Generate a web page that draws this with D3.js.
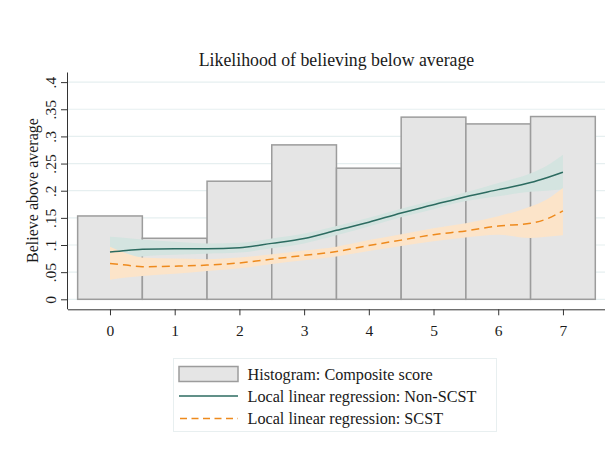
<!DOCTYPE html>
<html>
<head>
<meta charset="utf-8">
<script src="https://cdn.jsdelivr.net/npm/d3@7"></script>
<style>
  html, body { margin: 0; padding: 0; background: #fff; }
  svg { display: block; }
  text { font-family: "Liberation Serif", "Times New Roman", serif; fill: #1a1a1a; }
</style>
</head>
<body>
<svg id="chart" width="615" height="450"></svg>
<script>
// ---- Data ----
const histCategories = [0, 1, 2, 3, 4, 5, 6, 7];
const histValues = [0.1535, 0.1124, 0.2175, 0.2844, 0.2415, 0.3355, 0.323, 0.3366];

const fitX = [0, 0.25, 0.5, 1, 1.5, 2, 2.5, 3, 3.5, 4, 4.5, 5, 5.5, 6, 6.5, 6.75, 7];
const nonScstFit   = [0.087, 0.090, 0.092, 0.093, 0.093, 0.095, 0.103, 0.112, 0.127, 0.142, 0.159, 0.174, 0.189, 0.202, 0.215, 0.224, 0.234];
const nonScstLower = [0.060, 0.072, 0.079, 0.082, 0.084, 0.086, 0.094, 0.103, 0.118, 0.134, 0.151, 0.166, 0.181, 0.190, 0.198, 0.200, 0.202];
const nonScstUpper = [0.115, 0.113, 0.110, 0.106, 0.103, 0.104, 0.112, 0.121, 0.135, 0.150, 0.167, 0.182, 0.197, 0.214, 0.232, 0.246, 0.266];
const scstFit   = [0.066, 0.063, 0.060, 0.061, 0.063, 0.067, 0.074, 0.081, 0.088, 0.099, 0.109, 0.119, 0.126, 0.135, 0.140, 0.148, 0.163];
const scstLower = [0.036, 0.040, 0.043, 0.047, 0.052, 0.057, 0.065, 0.072, 0.079, 0.089, 0.098, 0.107, 0.114, 0.119, 0.113, 0.115, 0.118];
const scstUpper = [0.097, 0.085, 0.077, 0.075, 0.074, 0.077, 0.083, 0.090, 0.097, 0.109, 0.120, 0.131, 0.140, 0.153, 0.171, 0.184, 0.205];

const xTicks = [0, 1, 2, 3, 4, 5, 6, 7];
const yTicks = [0, 0.05, 0.1, 0.15, 0.2, 0.25, 0.3, 0.35, 0.4];
const yTickLabels = ["0", ".05", ".1", ".15", ".2", ".25", ".3", ".35", ".4"];

const titleText = "Likelihood of believing below average";
const yLabelText = "Believe above average";
const legendLabels = ["Histogram: Composite score", "Local linear regression: Non-SCST", "Local linear regression: SCST"];

// ---- Layout ----
const svg = d3.select("#chart");
const plotLeft = 68, plotRight = 605, plotTop = 72.5, plotBottom = 309.3;

const x = d3.scaleLinear().domain([-0.649, 7.65]).range([plotLeft, plotRight]);
const y = d3.scaleLinear().domain([-0.0184, 0.4177]).range([plotBottom, plotTop]);

const colGreen = "#2c6b60", colGreenBand = "#d4e4e0";
const colOrange = "#ee8a1d", colOrangeBand = "#fce4c9";
const colBarFill = "#e5e5e5", colBarStroke = "#9c9c9c";

// gridlines
svg.append("g").selectAll("line").data(yTicks).join("line")
  .attr("x1", plotLeft).attr("x2", plotRight)
  .attr("y1", d => y(d)).attr("y2", d => y(d))
  .attr("stroke", "#e6eff0").attr("stroke-width", 1.2);

// histogram bars
svg.append("g").selectAll("rect").data(histCategories).join("rect")
  .attr("x", (d) => x(d - 0.5))
  .attr("width", x(1) - x(0))
  .attr("y", (d, i) => y(histValues[i]))
  .attr("height", (d, i) => y(0) - y(histValues[i]))
  .attr("fill", colBarFill)
  .attr("stroke", colBarStroke)
  .attr("stroke-width", 1.5);

const idx = d3.range(fitX.length);
const curve = d3.curveMonotoneX;
const area = (lo, hi) => d3.area().x(i => x(fitX[i])).y0(i => y(lo[i])).y1(i => y(hi[i])).curve(curve);
const line = (v) => d3.line().x(i => x(fitX[i])).y(i => y(v[i])).curve(curve);

svg.append("path").datum(idx).attr("d", area(nonScstLower, nonScstUpper)).attr("fill", colGreenBand);
svg.append("path").datum(idx).attr("d", area(scstLower, scstUpper)).attr("fill", colOrangeBand);
svg.append("path").datum(idx).attr("d", line(nonScstFit)).attr("fill", "none")
  .attr("stroke", colGreen).attr("stroke-width", 1.5);
svg.append("path").datum(idx).attr("d", line(scstFit)).attr("fill", "none")
  .attr("stroke", colOrange).attr("stroke-width", 1.5).attr("stroke-dasharray", "8,5");

// axes
const xAxis = d3.axisBottom(x).tickValues(xTicks).tickSize(6).tickPadding(10).tickFormat(d3.format("d"));
const gx = svg.append("g").attr("transform", `translate(0,${plotBottom})`).call(xAxis);
gx.select(".domain").attr("d", `M${plotLeft},0.5H${plotRight}`).attr("stroke", "#333");
gx.selectAll(".tick line").attr("stroke", "#333");
gx.selectAll(".tick text").attr("font-family", "Liberation Serif").attr("font-size", 15.5).attr("fill", "#1a1a1a");

const yAxis = d3.axisLeft(y).tickValues(yTicks).tickSize(7).tickFormat((d, i) => yTickLabels[i]);
const gy = svg.append("g").attr("transform", `translate(${plotLeft},0)`).call(yAxis);
gy.select(".domain").attr("d", `M-0.5,${plotTop}V${plotBottom}`).attr("stroke", "#333");
gy.selectAll(".tick line").attr("stroke", "#333");
gy.selectAll(".tick text")
  .attr("font-family", "Liberation Serif").attr("font-size", 15.5).attr("fill", "#1a1a1a")
  .attr("x", null).attr("dy", null)
  .attr("text-anchor", "middle")
  .attr("transform", "translate(-12,0) rotate(-90)");

// title
svg.append("text").attr("x", (plotLeft + plotRight) / 2).attr("y", 66)
  .attr("text-anchor", "middle").attr("font-size", 17.8).text(titleText);

// y label
svg.append("text").attr("transform", `translate(37.5,${(118 + 263) / 2}) rotate(-90)`)
  .attr("text-anchor", "middle").attr("font-size", 16).text(yLabelText);

// legend
const lg = svg.append("g");
lg.append("rect").attr("x", 173.5).attr("y", 358.5).attr("width", 323).attr("height", 73)
  .attr("fill", "#fff").attr("stroke", "#e8eff0").attr("stroke-width", 1);
const rowY = [374, 396, 418.5];
lg.append("rect").attr("x", 179).attr("y", rowY[0] - 7.5).attr("width", 59).attr("height", 15)
  .attr("fill", colBarFill).attr("stroke", colBarStroke).attr("stroke-width", 1.5);
lg.append("line").attr("x1", 179).attr("x2", 238).attr("y1", rowY[1]).attr("y2", rowY[1])
  .attr("stroke", colGreen).attr("stroke-width", 1.5);
lg.append("line").attr("x1", 180).attr("x2", 238).attr("y1", rowY[2]).attr("y2", rowY[2])
  .attr("stroke", colOrange).attr("stroke-width", 1.5).attr("stroke-dasharray", "7,4.5");
lg.selectAll("text.lab").data(legendLabels).join("text").attr("class", "lab")
  .attr("x", 247.5).attr("y", (d, i) => rowY[i] + 5.5)
  .attr("font-size", 16.2).text(d => d);
</script>
</body>
</html>
